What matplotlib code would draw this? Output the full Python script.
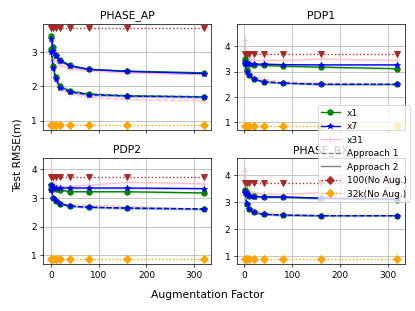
import matplotlib
matplotlib.use('Agg')
import matplotlib.pyplot as plt
from matplotlib.lines import Line2D
import numpy as np

# augmentation factors
aug = [1, 5, 10, 20, 40, 80, 160, 320]

titles = ['PHASE_AP', 'PDP1', 'PDP2', 'PHASE_RX']

# Approach 2 (solid, upper curves)
phase_ap_x1_a2  = [3.48, 3.15, 2.92, 2.77, 2.62, 2.50, 2.45, 2.40]
phase_ap_x7_a2  = [3.40, 3.05, 2.88, 2.75, 2.60, 2.50, 2.44, 2.38]
phase_ap_x31_a2 = [3.30, 2.85, 2.75, 2.62, 2.52, 2.45, 2.40, 2.37]
# Approach 1 (dashed, lower curves)
phase_ap_x1_a1  = [3.10, 2.60, 2.28, 2.00, 1.87, 1.78, 1.73, 1.70]
phase_ap_x7_a1  = [3.00, 2.55, 2.22, 1.97, 1.84, 1.76, 1.72, 1.69]
phase_ap_x31_a1 = [2.80, 2.45, 2.15, 1.92, 1.78, 1.68, 1.62, 1.58]

pdp1_x1_a2  = [3.50, 3.35, 3.30, 3.28, 3.25, 3.22, 3.18, 3.12]
pdp1_x7_a2  = [3.40, 3.35, 3.32, 3.30, 3.30, 3.28, 3.27, 3.27]
pdp1_x31_a2 = [4.25, 3.60, 3.50, 3.45, 3.45, 3.45, 3.50, 3.45]
pdp1_x1_a1  = [3.35, 3.05, 2.85, 2.70, 2.60, 2.55, 2.50, 2.50]
pdp1_x7_a1  = [3.30, 3.00, 2.85, 2.70, 2.60, 2.55, 2.50, 2.50]
pdp1_x31_a1 = [3.35, 3.10, 2.90, 2.80, 2.70, 2.60, 2.55, 2.50]

pdp2_x1_a2  = [3.45, 3.35, 3.30, 3.28, 3.22, 3.22, 3.22, 3.18]
pdp2_x7_a2  = [3.45, 3.40, 3.35, 3.35, 3.35, 3.35, 3.35, 3.33]
pdp2_x31_a2 = [4.00, 3.60, 3.45, 3.40, 3.40, 3.45, 3.55, 3.50]
pdp2_x1_a1  = [3.30, 3.00, 2.90, 2.80, 2.72, 2.68, 2.65, 2.62]
pdp2_x7_a1  = [3.28, 3.00, 2.88, 2.80, 2.72, 2.68, 2.65, 2.62]
pdp2_x31_a1 = [3.20, 3.05, 2.95, 2.85, 2.78, 2.75, 2.70, 2.62]

phase_rx_x1_a2  = [3.45, 3.35, 3.25, 3.22, 3.20, 3.18, 3.15, 3.10]
phase_rx_x7_a2  = [3.40, 3.30, 3.22, 3.20, 3.20, 3.20, 3.15, 3.12]
phase_rx_x31_a2 = [4.15, 3.50, 3.40, 3.35, 3.30, 3.30, 3.35, 3.35]
phase_rx_x1_a1  = [3.40, 2.95, 2.75, 2.62, 2.55, 2.52, 2.50, 2.50]
phase_rx_x7_a1  = [3.35, 2.92, 2.75, 2.62, 2.55, 2.52, 2.50, 2.50]
phase_rx_x31_a1 = [3.30, 3.00, 2.80, 2.70, 2.62, 2.55, 2.50, 2.50]

no_aug_100 = [3.72, 3.72, 3.72, 3.72]
no_aug_32k = [0.87, 0.87, 0.87, 0.87]

ylims = [(0.73, 3.84), (0.7, 4.9), (0.7, 4.4), (0.7, 4.65)]

all_data = [
    (phase_ap_x1_a2, phase_ap_x7_a2, phase_ap_x31_a2, phase_ap_x1_a1, phase_ap_x7_a1, phase_ap_x31_a1),
    (pdp1_x1_a2, pdp1_x7_a2, pdp1_x31_a2, pdp1_x1_a1, pdp1_x7_a1, pdp1_x31_a1),
    (pdp2_x1_a2, pdp2_x7_a2, pdp2_x31_a2, pdp2_x1_a1, pdp2_x7_a1, pdp2_x31_a1),
    (phase_rx_x1_a2, phase_rx_x7_a2, phase_rx_x31_a2, phase_rx_x1_a1, phase_rx_x7_a1, phase_rx_x31_a1),
]

colors = {'x1': 'green', 'x7': 'blue', 'x31': 'pink'}
markers = {'x1': 'o', 'x7': '*', 'x31': '+'}

DPI = 415 / 6.4
fig, axs = plt.subplots(2, 2, figsize=(6.4, 4.8), dpi=DPI, sharex=True)
fig.subplots_adjust(left=0.104, right=0.976, top=0.923, bottom=0.151, wspace=0.15, hspace=0.265)

for i, ax in enumerate(axs.flat):
    x1_a2, x7_a2, x31_a2, x1_a1, x7_a1, x31_a1 = all_data[i]
    # pink first so green/blue sit on top
    for key, a2, a1 in [('x31', x31_a2, x31_a1), ('x1', x1_a2, x1_a1), ('x7', x7_a2, x7_a1)]:
        c = colors[key]
        m = markers[key]
        ax.plot(aug, a2, '-', color=c, marker=m)
        ax.fill_between(aug, np.array(a2) - 0.04, np.array(a2) + 0.04, color=c, alpha=0.2, linewidth=0)
        ax.plot(aug, a1, '--', color=c, marker=m)
        ax.fill_between(aug, np.array(a1) - 0.04, np.array(a1) + 0.04, color=c, alpha=0.2, linewidth=0)
    ax.plot(aug, [no_aug_100[i]] * len(aug), ':', color='brown', marker='v')
    ax.plot(aug, [no_aug_32k[i]] * len(aug), ':', color='orange', marker='D')
    ax.set_title(titles[i])
    ax.set_ylim(*ylims[i])
    ax.set_xlim(-16, 336)
    ax.set_xticks([0, 100, 200, 300])
    ax.grid(True)

handles = [
    Line2D([], [], color='green', marker='o', label='x1'),
    Line2D([], [], color='blue', marker='*', label='x7'),
    Line2D([], [], color='pink', marker='+', label='x31'),
    Line2D([], [], color='gray', linestyle='--', label='Approach 1'),
    Line2D([], [], color='gray', linestyle='-', label='Approach 2'),
    Line2D([], [], color='brown', linestyle=':', marker='D', label='100(No Aug.)'),
    Line2D([], [], color='orange', linestyle=':', marker='D', label='32k(No Aug.)'),
]
fig.legend(handles=handles, loc='upper left', bbox_to_anchor=(0.766, 0.662), borderaxespad=0)

fig.supylabel('Test RMSE(m)', x=0.03)
fig.supxlabel('Augmentation Factor', y=0.035)

plt.savefig('out.png', dpi=DPI)
